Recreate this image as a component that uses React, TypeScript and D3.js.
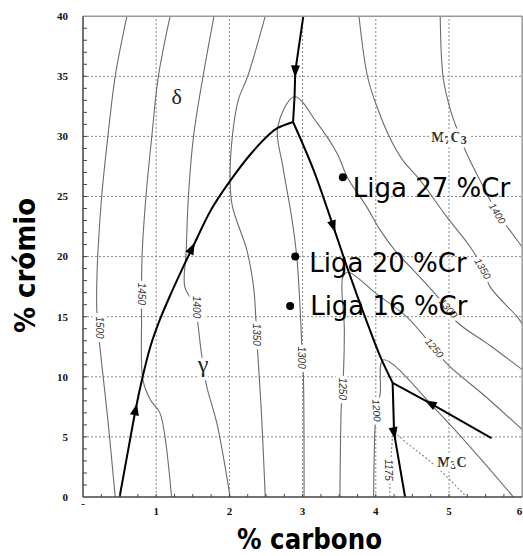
import React from 'react';
import * as d3 from 'd3';

type P = [number, number];

// monovariant lines (% C, % Cr)
const lineGammaDelta: P[] = [[0.5, 0], [0.62, 4], [0.72, 7.3], [0.815, 10], [0.92, 12.5], [1.05, 14.75], [1.2, 16.9], [1.35, 18.9], [1.5, 20.8], [1.75, 23.9], [2.01, 26.3], [2.3, 28.6], [2.55, 30.2], [2.66, 30.7], [2.87, 31.2]];
const lineTop: P[] = [[3.01, 40], [2.9, 35.4], [2.89, 33.3], [2.87, 31.2]];
const lineGammaM7: P[] = [[2.87, 31.2], [3.15, 27.2], [3.42, 22.5], [3.62, 18.9], [3.87, 14.7], [4.06, 11.7], [4.23, 9.5]];
const lineGammaM3: P[] = [[4.23, 9.5], [4.25, 5.3], [4.4, 0]];
const lineM7M3: P[] = [[4.23, 9.5], [4.74, 7.8], [5.58, 4.9]];

// arrow: position + a point it points to
const arrows: [number, number, number, number][] = [
  [0.72, 7.3, 0.815, 10],
  [1.49, 20.7, 1.75, 23.9],
  [2.9, 35.4, 2.89, 33.3],
  [3.42, 22.5, 3.62, 18.9],
  [4.25, 5.3, 4.4, 0],
  [4.74, 7.8, 4.23, 9.5],
];

// liquidus isotherms
const iso1500: P[] = [[0.6, 40], [0.44, 35], [0.34, 30], [0.255, 25], [0.205, 20.5], [0.187, 17.2], [0.19, 15.3], [0.23, 12.5], [0.34, 6.4], [0.44, 0]];
const iso1450: P[] = [[1.19, 40], [1.03, 35], [0.94, 30], [0.86, 25], [0.81, 20.5], [0.8, 17.8], [0.8, 15], [0.82, 9.7], [0.92, 8.1], [1.05, 7.0], [1.12, 5.0], [1.17, 2.5], [1.21, 0]];
const iso1400: P[] = [[1.79, 40], [1.64, 35], [1.51, 30], [1.44, 25], [1.41, 20.5], [1.39, 17.5], [1.5, 16.2], [1.56, 14.8], [1.6, 12.8], [1.64, 11], [1.69, 9.2], [1.83, 6.1], [2.01, 0]];
const iso1350: P[] = [[2.49, 40], [2.25, 35], [2.12, 33], [2.04, 30], [2.01, 26.4], [2.04, 24.2], [2.24, 20.5], [2.33, 17.5], [2.36, 15], [2.37, 13.5], [2.39, 11.7], [2.44, 6.7], [2.49, 0]];
const iso1300: P[] = [[3.02, 0], [3.01, 10.3], [2.99, 12.5], [2.96, 16.4], [2.92, 20], [2.85, 23.3], [2.73, 27.5], [2.66, 30.8], [2.89, 33.3], [3.2, 31.1], [3.47, 28.6], [3.62, 26.5], [3.87, 24.2], [4.06, 22.2], [4.29, 20.3], [4.51, 18.9], [4.88, 16.4], [5.1, 14.6], [5.56, 12.6], [6.0, 10.6]];
const iso1250: P[] = [[3.51, 0], [3.53, 7.8], [3.56, 10.6], [3.57, 14], [3.55, 18.3], [3.62, 18.7], [4.01, 16.9], [4.42, 15.0], [4.78, 12.5], [4.97, 11.1], [5.51, 8.3], [6.0, 5.6]];
const iso1200: P[] = [[3.97, 0], [3.99, 5.85], [4.01, 7.2], [4.06, 8.6], [4.1, 11.4], [4.87, 6.95], [5.88, 0]];
const iso1175: P[] = [[4.19, 0], [4.2, 2.25], [4.22, 4.3], [4.25, 5.3], [4.42, 4.5], [4.83, 2.5], [5.24, 0]];
const isoM7C3a: P[] = [[3.77, 40], [3.89, 34.9], [4.02, 32.4], [4.19, 29.9], [4.37, 28.0], [4.6, 26.4], [4.97, 23.3], [5.29, 20.8], [5.46, 19.1], [5.56, 17.5], [5.93, 15.0], [6.0, 14.4]];
const isoM7C3b: P[] = [[4.88, 40], [4.92, 34.9], [5.01, 32.4], [5.08, 31.1], [5.24, 28.6], [5.47, 25.8], [5.66, 23.6], [5.83, 22.2], [6.0, 20.8]];

const solidIsotherms = [iso1500, iso1450, iso1400, iso1350, iso1300, iso1250, iso1200, isoM7C3a, isoM7C3b];
const dashedIsotherms = [iso1175];

// contour labels: text, %C, %Cr, angle
const isoLabels: [string, number, number, number][] = [
  ['1500', 0.23, 14.1, 90],
  ['1450', 0.8, 16.9, 90],
  ['1400', 1.55, 15.8, 90],
  ['1350', 2.37, 13.5, 90],
  ['1300', 2.99, 11.6, 90],
  ['1250', 3.55, 9.0, 90],
  ['1200', 4.01, 7.2, 86],
  ['1175', 4.18, 2.25, 90],
  ['1250', 4.8, 12.4, 50],
  ['1300', 4.99, 15.7, 50],
  ['1350', 5.46, 19.0, 60],
  ['1400', 5.66, 23.6, 58],
];

// alloys
const alloyNames = ['Liga 27 %Cr', 'Liga 20 %Cr', 'Liga 16 %Cr'];
const alloyC = [3.55, 2.9, 2.83];
const alloyCr = [26.6, 20, 15.9];
const alloyTextOffset: P[] = [[10, 20], [14, 15], [20, 9]];

const yTicks = [0, 5, 10, 15, 20, 25, 30, 35, 40];
const xTicks = [1, 2, 3, 4, 5, 6];

export default function App() {
  const W = 523;
  const H = 556;
  const x = d3.scaleLinear().domain([0, 6]).range([83, 522.2]);
  const y = d3.scaleLinear().domain([0, 40]).range([497, 16.2]);
  const [x0, x1] = x.range();
  const [y0, y1] = y.range();

  const smooth = d3.line<P>().x(d => x(d[0])).y(d => y(d[1])).curve(d3.curveCatmullRom.alpha(0.5));
  const straight = d3.line<P>().x(d => x(d[0])).y(d => y(d[1]));

  const halo = { stroke: '#fff', strokeWidth: 7, paintOrder: 'stroke' as const, strokeLinejoin: 'round' as const };

  return (
    <svg width={W} height={H} style={{ position: 'absolute', left: 0, top: 0, background: '#fff' }}>
      <defs>
        <clipPath id="plot">
          <rect x={x0} y={y1} width={x1 - x0} height={y0 - y1} />
        </clipPath>
      </defs>
      <rect width={W} height={H} fill="#fff" />

      {/* grid */}
      <g stroke="#8a8a8a" strokeWidth={1} strokeDasharray="2,2">
        {d3.range(1, 6).map(v => (
          <line key={'gx' + v} x1={x(v)} x2={x(v)} y1={y0} y2={y1} />
        ))}
        {d3.range(5, 40, 5).map(v => (
          <line key={'gy' + v} x1={x0} x2={x1} y1={y(v)} y2={y(v)} />
        ))}
      </g>

      {/* isotherms */}
      <g clipPath="url(#plot)" fill="none" stroke="#6b6b6b" strokeWidth={1.1}>
        {solidIsotherms.map((d, i) => <path key={'iso' + i} d={smooth(d) || ''} />)}
        {dashedIsotherms.map((d, i) => (
          <path key={'dash' + i} d={smooth(d) || ''} strokeDasharray="2,2" stroke="#888" />
        ))}
      </g>

      {/* labels with white halo */}
      <g fontFamily="'Liberation Sans', Arial, sans-serif" fontSize={10} fill="#333" fontStyle="italic">
        {isoLabels.map(([t, cx, cy, a], i) => (
          <text key={'il' + i} transform={`translate(${x(cx)},${y(cy)}) rotate(${a})`} textAnchor="middle" dy="0.35em" {...halo}>
            {t}
          </text>
        ))}
      </g>
      <text x={x(1.28)} y={y(33.3)} dy="0.35em" textAnchor="middle" fontFamily="'Liberation Serif', serif" fontSize={22} fill="#222" {...halo}>δ</text>
      <text x={x(1.64)} y={y(11.0)} dy="0.3em" textAnchor="middle" fontFamily="'Liberation Serif', serif" fontSize={24} fill="#222" {...halo}>γ</text>
      <text x={x(5.0)} y={y(29.95)} dy="0.35em" textAnchor="middle" fontFamily="'Liberation Serif', serif" fontWeight="bold" fontSize={14} fill="#333" {...halo}>
        M<tspan fontSize={12} dy={2}>7</tspan><tspan dy={-2}>C</tspan><tspan fontSize={12} dy={2}>3</tspan>
      </text>
      <text x={x(5.04)} y={y(2.9)} dy="0.35em" textAnchor="middle" fontFamily="'Liberation Serif', serif" fontWeight="bold" fontSize={14} fill="#333" {...halo}>
        M<tspan fontSize={12} dy={2}>3</tspan><tspan dy={-2}>C</tspan>
      </text>

      {/* monovariant lines */}
      <g fill="none" stroke="#000" strokeWidth={2} strokeLinejoin="round">
        <path d={smooth(lineGammaDelta) || ''} />
        <path d={straight(lineTop) || ''} />
        <path d={smooth(lineGammaM7) || ''} />
        <path d={straight(lineGammaM3) || ''} />
        <path d={straight(lineM7M3) || ''} />
      </g>
      {arrows.map(([ax, ay, tx, ty], i) => {
        const px = x(ax), py = y(ay);
        const ang = (Math.atan2(y(ty) - py, x(tx) - px) * 180) / Math.PI;
        return (
          <path key={'ar' + i} d="M6,0L-6,-4.5L-6,4.5Z" fill="#000" transform={`translate(${px},${py}) rotate(${ang})`} />
        );
      })}

      {/* alloys */}
      {alloyNames.map((n, i) => (
        <g key={'al' + i}>
          <circle cx={x(alloyC[i])} cy={y(alloyCr[i])} r={4} fill="#000" />
          <text x={x(alloyC[i]) + alloyTextOffset[i][0]} y={y(alloyCr[i]) + alloyTextOffset[i][1]} fontFamily="'DejaVu Sans', sans-serif" fontSize={26} fill="#000">
            {n}
          </text>
        </g>
      ))}

      {/* frame */}
      <line x1={x0} x2={x1} y1={y1} y2={y1} stroke="#999" strokeWidth={1.5} />
      <line x1={x1} x2={x1} y1={y1} y2={y0} stroke="#999" strokeWidth={1.5} />
      <line x1={x0} x2={x0} y1={y1} y2={y0} stroke="#444" strokeWidth={1.5} />
      <line x1={x0} x2={x1} y1={y0} y2={y0} stroke="#444" strokeWidth={1.5} />

      {/* minor ticks */}
      <g stroke="#444" strokeWidth={1}>
        {d3.range(1, 40).map(v => (
          <line key={'ty' + v} x1={x0} x2={x0 + 4} y1={y(v)} y2={y(v)} />
        ))}
        {d3.range(0.25, 6, 0.25).map(v => (
          <line key={'tx' + v} x1={x(v)} x2={x(v)} y1={y0} y2={y0 - 3} />
        ))}
      </g>

      {/* tick labels */}
      <g fontFamily="'Liberation Serif', serif" fontWeight="bold" fontSize={11} fill="#111">
        {yTicks.map(v => (
          <text key={'yl' + v} x={x0 - 15} y={y(v)} dy="0.35em" textAnchor="end">{v}</text>
        ))}
        {xTicks.map(v => (
          <text key={'xl' + v} x={Math.min(x(v), W - 3.5)} y={y0 + 18} textAnchor="middle">{v}</text>
        ))}
        <text x={x(0)} y={y0 + 10} textAnchor="middle">-</text>
      </g>

      {/* axis titles */}
      <text x={309.5} y={549} textAnchor="middle" fontFamily="'DejaVu Sans', sans-serif" fontWeight="bold" fontSize={28} textLength={145} lengthAdjust="spacingAndGlyphs" fill="#000">
        % carbono
      </text>
      <text transform="translate(35,265.5) rotate(-90)" textAnchor="middle" fontFamily="'DejaVu Sans', sans-serif" fontWeight="bold" fontSize={28} textLength={135} lengthAdjust="spacingAndGlyphs" fill="#000">
        % crómio
      </text>
    </svg>
  );
}
